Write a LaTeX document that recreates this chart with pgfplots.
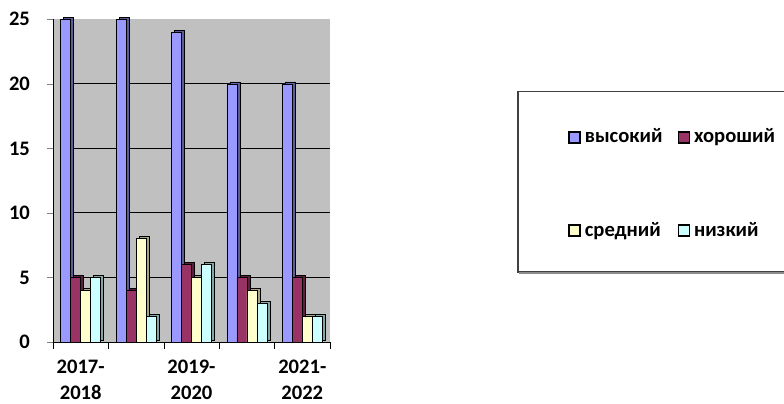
\documentclass[border=0pt]{standalone}
\usepackage{pgfplots}
\pgfplotsset{compat=1.18}
\usepackage{fontspec}
\setmainfont{Carlito}
\definecolor{blueE}{RGB}{153,153,255}
\definecolor{redE}{RGB}{153,51,102}
\definecolor{yelE}{RGB}{255,255,204}
\definecolor{cyanE}{RGB}{204,255,255}
\definecolor{wall}{RGB}{192,192,192}
\pgfplotstableread{
x hi good mid low
0 25 5 4 5
1 25 4 8 2
2 24 6 5 6
3 20 5 4 3
4 20 5 2 2
}\datatable
\begin{document}
\begin{tikzpicture}
\path[use as bounding box] (0,0) rectangle (392pt,201.5pt);
\begin{axis}[
  at={(26.5pt,30.5pt)}, anchor=south west,
  scale only axis, width=138.5pt, height=161.35pt,
  xmin=-0.5, xmax=4.5, ymin=0, ymax=25,
  axis lines=left, axis line style={-},
  axis background/.style={fill=wall},
  clip=false,
  xtick={0,2,4},
  xticklabels={{2017-\\2018},{2019-\\2020},{2021-\\2022}},
  minor xtick={-0.5,0.5,1.5,2.5,3.5,4.5},
  major x tick style={draw=none},
  minor x tick style={draw=black},
  ytick={0,5,10,15,20,25},
  tick align=outside,
  major tick length=3pt, minor tick length=3.5pt,
  tick label style={font=\fontsize{10.3}{12.8}\selectfont\bfseries},
  xticklabel style={align=center, yshift=-2.5pt},
  yticklabel style={xshift=-5pt},
  /pgf/number format/assume math mode=true,
  legend columns=2,
  legend style={draw=none, fill=none, at={(axis description cs:1.8375,0.6864)},
    anchor=north west, font=\fontsize{10.3}{12}\selectfont\bfseries,
    row sep=34pt,
    /tikz/every even column/.append style={column sep=5.5pt}},
  legend cell align=left,
  legend image code/.code={\draw[#1, draw=black, line width=0.75pt] (0pt,-2.75pt) rectangle (5.5pt,2.75pt);},
]
\pgfplotsinvokeforeach{5,10,15,20}{\draw[black, line width=0.5pt] (axis cs:-0.14,#1) -- (axis cs:4.5,#1);}
% side faces (3D depth)
\addplot[ybar, bar width=5pt, bar shift=-7.5pt, fill=blueE!60!black, draw=black, line width=0.3pt, xshift=1.5pt, yshift=1pt, forget plot] table[x=x,y=hi]{\datatable};
\addplot[ybar, bar width=5pt, bar shift=-2.5pt, fill=redE!60!black, draw=black, line width=0.3pt, xshift=1.5pt, yshift=1pt, forget plot] table[x=x,y=good]{\datatable};
\addplot[ybar, bar width=5pt, bar shift=2.5pt, fill=yelE!65!black, draw=black, line width=0.3pt, xshift=1.5pt, yshift=1pt, forget plot] table[x=x,y=mid]{\datatable};
\addplot[ybar, bar width=5pt, bar shift=7.5pt, fill=cyanE!65!black, draw=black, line width=0.3pt, xshift=1.5pt, yshift=1pt, forget plot] table[x=x,y=low]{\datatable};
% front faces
\addplot[ybar, bar width=5pt, bar shift=-7.5pt, fill=blueE, draw=black, line width=0.3pt] table[x=x,y=hi]{\datatable};
\addplot[ybar, bar width=5pt, bar shift=-2.5pt, fill=redE, draw=black, line width=0.3pt] table[x=x,y=good]{\datatable};
\addplot[ybar, bar width=5pt, bar shift=2.5pt, fill=yelE, draw=black, line width=0.3pt] table[x=x,y=mid]{\datatable};
\addplot[ybar, bar width=5pt, bar shift=7.5pt, fill=cyanE, draw=black, line width=0.3pt] table[x=x,y=low]{\datatable};
\legend{высокий, хороший, средний, низкий}
\end{axis}
\draw[black!75, line width=0.6pt] (395pt,155.75pt) -- (259pt,155.75pt) -- (259pt,65.5pt) -- (395pt,65.5pt);
\draw[black!45, line width=0.6pt] (259.6pt,65pt) -- (395pt,65pt);
\end{tikzpicture}
\end{document}
